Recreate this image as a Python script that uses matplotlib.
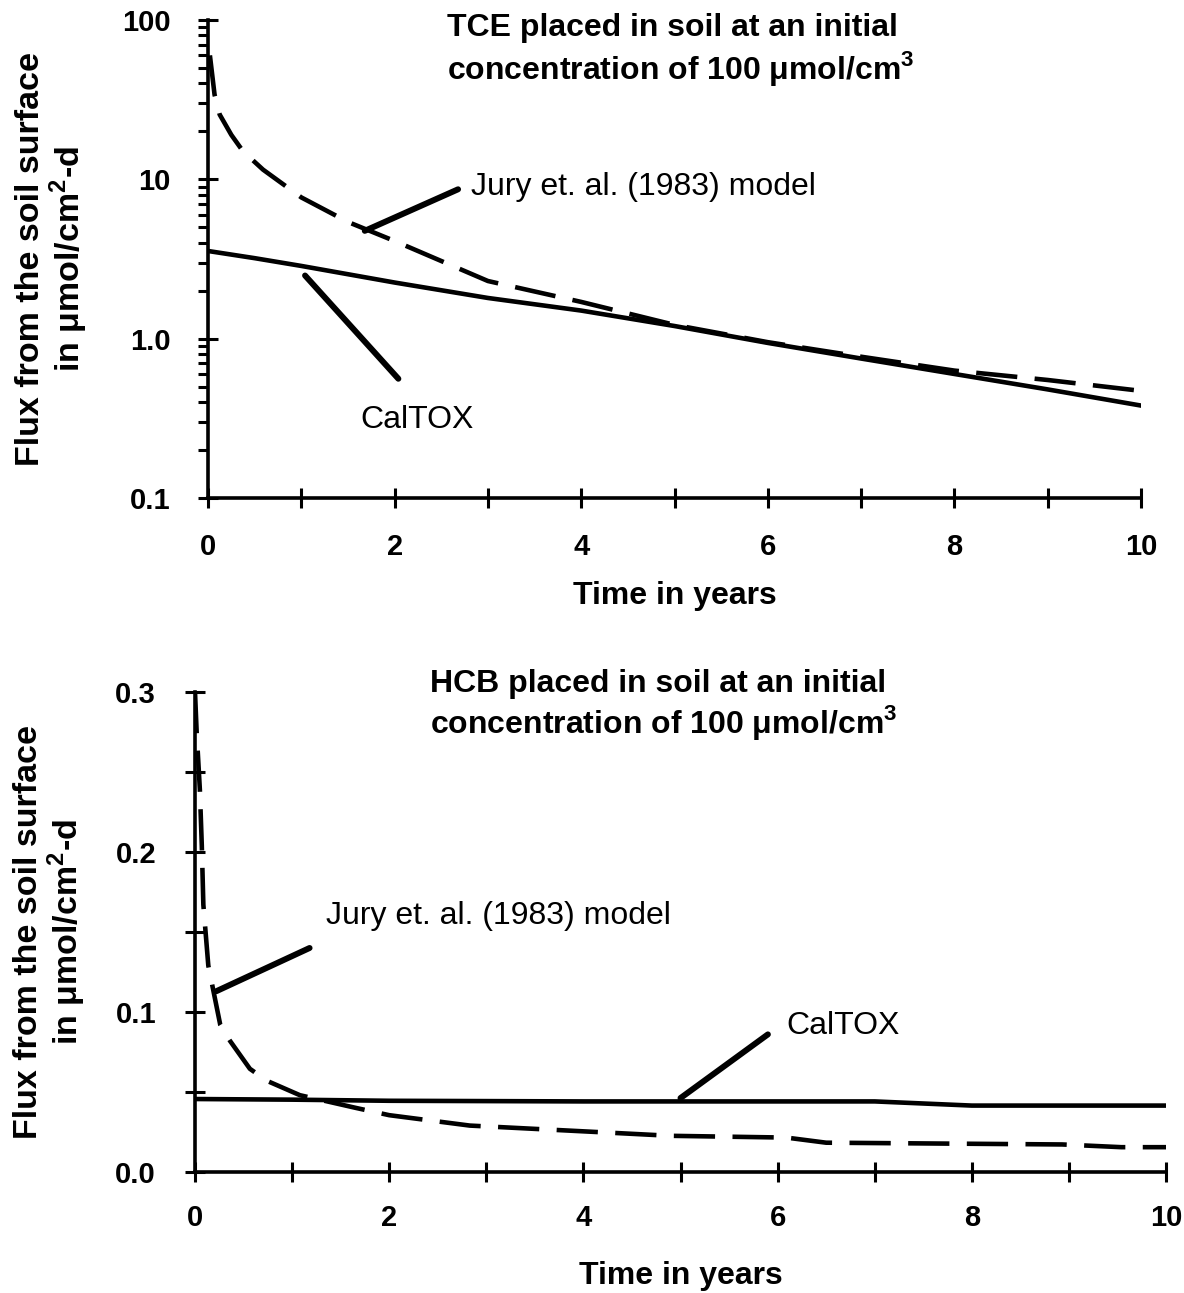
import numpy as np
import matplotlib
matplotlib.use('Agg')
import matplotlib.pyplot as plt
from matplotlib.ticker import NullFormatter, LogLocator

plt.rcParams['font.family'] = ['Liberation Sans', 'DejaVu Sans']
plt.rcParams['mathtext.fontset'] = 'custom'
plt.rcParams['mathtext.rm'] = 'Liberation Sans'
plt.rcParams['mathtext.bf'] = 'Liberation Sans:bold'

# TCE (top panel, log scale)
tce_jury_t = [0.02, 0.07, 0.125, 0.25, 0.375, 0.59, 1.0, 1.5, 2.0, 3.0, 4.0, 5.0, 6.0, 7.0, 8.0, 9.0, 10.0]
tce_jury = [60, 34, 25.5, 19, 15, 11.5, 7.7, 5.4, 4.1, 2.3, 1.7, 1.22, 0.95, 0.77, 0.63, 0.55, 0.47]
tce_caltox_t = [0, 0.5, 1, 2, 3, 4, 5, 6, 7, 8, 9, 10]
tce_caltox = [3.55, 3.2, 2.86, 2.25, 1.8, 1.5, 1.2, 0.94, 0.75, 0.6, 0.48, 0.38]

# HCB (bottom panel, linear scale)
hcb_jury_t = [0, 0.017, 0.05, 0.07, 0.086, 0.137, 0.26, 0.36, 0.565, 0.74, 1.08, 1.66, 2.0, 2.83, 4.0, 4.9, 6.09, 6.5, 8.93, 9.54, 10]
hcb_jury = [0.3, 0.275, 0.239, 0.204, 0.167, 0.129, 0.092, 0.082, 0.0645, 0.057, 0.048, 0.040, 0.0355, 0.029,
            0.0254, 0.0226, 0.0215, 0.0183, 0.0172, 0.0155, 0.0155]
hcb_caltox_t = [0, 1, 2, 3, 4, 5, 6, 7, 8, 9, 10]
hcb_caltox = [0.0456, 0.0452, 0.0445, 0.0443, 0.0441, 0.0441, 0.0441, 0.0441, 0.0415, 0.0415, 0.0415]

x_ticks = [0, 2, 4, 6, 8, 10]
x_minor = [1, 3, 5, 7, 9]

ylab = 'Flux from the soil surface\nin \u03bcmol/cm$^{\\mathbf{2}}$-d'
conc = 'concentration of 100 \u03bcmol/cm$^{\\mathbf{3}}$'

fs = 23
tfs = 21
lw = 3.3
lead_lw = 4.3
dash = (9, 3.8)

fig = plt.figure(figsize=(11.84, 12.93), dpi=100)
ax1 = fig.add_axes([0.1757, 0.6149, 0.7880, 0.3696])
ax2 = fig.add_axes([0.1647, 0.0936, 0.8201, 0.3712])


def style(ax, pad, labelpad):
    for s in ['top', 'right']:
        ax.spines[s].set_visible(False)
    for s in ['left', 'bottom']:
        ax.spines[s].set_linewidth(2.6)
    ax.set_xlim(0, 10)
    ax.set_xticks(x_ticks)
    ax.set_xticks(x_minor, minor=True)
    ax.tick_params(axis='x', which='both', direction='inout', length=14, width=2.2, pad=pad)
    ax.tick_params(axis='x', which='major', labelsize=tfs)
    for lab in ax.get_xticklabels() + ax.get_yticklabels():
        lab.set_fontweight('bold')
    ax.set_xlabel('Time in years', fontsize=fs, fontweight='bold', labelpad=labelpad)


# top panel
ax1.plot(tce_jury_t, tce_jury, color='black', lw=lw, dashes=dash)
ax1.plot(tce_caltox_t, tce_caltox, color='black', lw=lw)
ax1.set_yscale('log')
ax1.set_ylim(0.1, 100)
ax1.set_yticks([0.1, 1, 10, 100])
ax1.set_yticklabels(['0.1', '1.0', '10', '100'])
ax1.yaxis.set_minor_locator(LogLocator(base=10, subs=np.arange(2, 10)))
ax1.yaxis.set_minor_formatter(NullFormatter())
ax1.tick_params(axis='y', which='major', direction='inout', length=14, width=2.2, pad=20, labelsize=tfs)
ax1.tick_params(axis='y', which='minor', direction='out', length=7, width=2.2)
style(ax1, 18, 15)
ax1.set_ylabel(ylab, fontsize=24.5, fontweight='bold', linespacing=1.05)
ax1.yaxis.set_label_coords(-0.127, 0.5)
ax1.text(0.256, 1.014, 'TCE placed in soil at an initial\n' + conc,
         transform=ax1.transAxes, ha='left', va='top', fontsize=fs, fontweight='bold', linespacing=1.2)

ax1.annotate('', xy=(1.68, 4.75), xytext=(2.68, 8.66),
             arrowprops=dict(arrowstyle='-', lw=lead_lw, color='black', shrinkA=0, shrinkB=0))
ax1.text(2.82, 8.9, 'Jury et. al. (1983) model', fontsize=fs, ha='left', va='center')
ax1.annotate('', xy=(2.04, 0.56), xytext=(1.04, 2.49),
             arrowprops=dict(arrowstyle='-', lw=lead_lw, color='black', shrinkA=0, shrinkB=0))
ax1.text(1.63, 0.31, 'CalTOX', fontsize=fs, ha='left', va='center')

# bottom panel
ax2.plot(hcb_jury_t, hcb_jury, color='black', lw=lw, dashes=dash)
ax2.plot(hcb_caltox_t, hcb_caltox, color='black', lw=lw)
ax2.set_ylim(0, 0.3)
ax2.set_yticks([0.0, 0.1, 0.2, 0.3])
ax2.set_yticklabels(['0.0', '0.1', '0.2', '0.3'])
ax2.set_yticks([0.05, 0.15, 0.25], minor=True)
ax2.tick_params(axis='y', which='both', direction='inout', length=14, width=2.2, pad=21, labelsize=tfs)
style(ax2, 16, 21)
ax2.set_ylabel(ylab, fontsize=24.5, fontweight='bold', linespacing=1.05)
ax2.yaxis.set_label_coords(-0.110, 0.5)
ax2.text(0.242, 1.048, 'HCB placed in soil at an initial\n' + conc,
         transform=ax2.transAxes, ha='left', va='top', fontsize=fs, fontweight='bold', linespacing=1.15)

ax2.annotate('', xy=(0.22, 0.113), xytext=(1.18, 0.140),
             arrowprops=dict(arrowstyle='-', lw=lead_lw, color='black', shrinkA=0, shrinkB=0))
ax2.text(1.35, 0.160, 'Jury et. al. (1983) model', fontsize=fs, ha='left', va='center')
ax2.annotate('', xy=(5.0, 0.0462), xytext=(5.9, 0.086),
             arrowprops=dict(arrowstyle='-', lw=lead_lw, color='black', shrinkA=0, shrinkB=0))
ax2.text(6.09, 0.0914, 'CalTOX', fontsize=fs, ha='left', va='center')

fig.savefig('out.png', dpi=100)
